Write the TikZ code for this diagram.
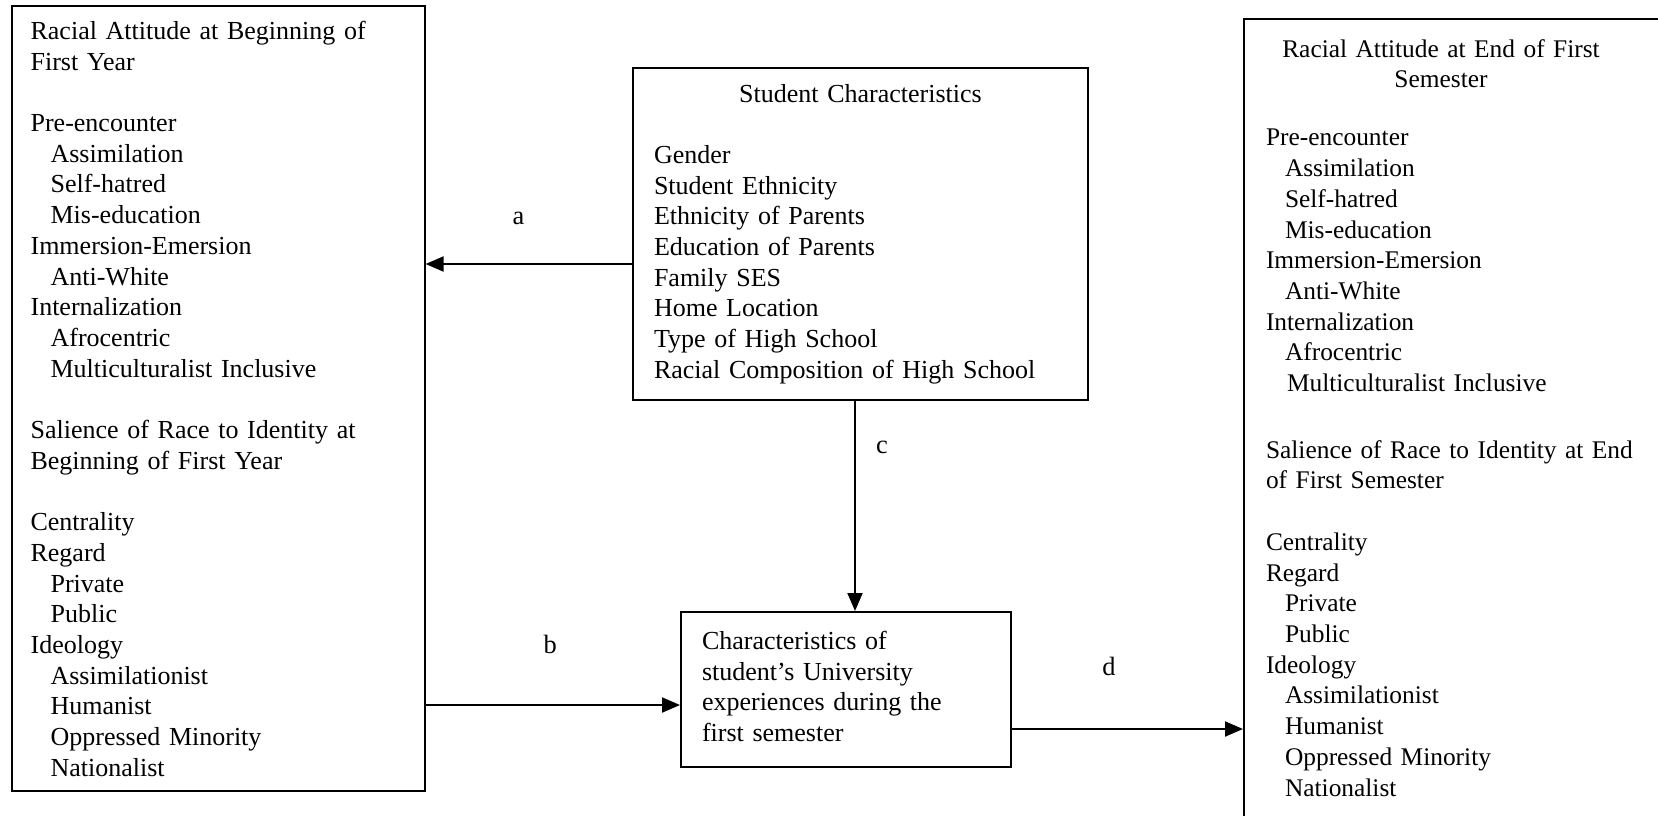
\documentclass[tikz,border=0pt]{standalone}
\usepackage{fontspec}
\setmainfont{Liberation Serif}
\usetikzlibrary{arrows.meta,positioning}

\begin{document}
\begin{tikzpicture}[x=0.5pt,y=-0.5pt,->,>={Triangle[length=9pt,width=7.5pt]},
                    line width=1pt,
                    box/.style={draw,anchor=north west,align=left,inner ysep=0pt,
                                font=\fontsize{13pt}{15.35pt}\selectfont},
                    lbl/.style={inner sep=0pt,font=\fontsize{13.2pt}{15.35pt}\selectfont}]
            \useasboundingbox (0,0) rectangle (1658,815);

            \node[box,text width=187.5pt,inner xsep=9.5pt,minimum height=392.5pt] (attbeg) at (10.6,5.3)
                {Racial Attitude at Beginning of\\ First Year\\[\baselineskip]
                 Pre-encounter\\ \hspace*{10pt}Assimilation\\ \hspace*{10pt}Self-hatred\\ \hspace*{10pt}Mis-education\\
                 Immersion-Emersion\\ \hspace*{10pt}Anti-White\\
                 Internalization\\ \hspace*{10pt}Afrocentric\\ \hspace*{10pt}Multiculturalist Inclusive\\[\baselineskip]
                 Salience of Race to Identity at\\ Beginning of First Year\\[\baselineskip]
                 Centrality\\ Regard\\ \hspace*{10pt}Private\\ \hspace*{10pt}Public\\
                 Ideology\\ \hspace*{10pt}Assimilationist\\ \hspace*{10pt}Humanist\\ \hspace*{10pt}Oppressed Minority\\ \hspace*{10pt}Nationalist};
            \node[box,text width=206.5pt,inner xsep=10.5pt,minimum height=166pt] (stud) at (632,67)
                {\makebox[206.5pt]{Student Characteristics}\\[\baselineskip]
                 Gender\\ Student Ethnicity\\ Ethnicity of Parents\\ Education of Parents\\ Family SES\\
                 Home Location\\ Type of High School\\ Racial Composition of High School};
            \node[box,text width=144pt,inner xsep=10.5pt,minimum height=77.5pt] (univ) at (680,611)
                {Characteristics of\\ student’s University\\ experiences during the\\ first semester\rule[-3.2pt]{0pt}{0pt}};
            \node[box,text width=213pt,inner xsep=11pt,minimum height=400pt,
                  font=\fontsize{12.7pt}{15.35pt}\selectfont] (attend) at (1243,18)
                {\makebox[175pt]{Racial Attitude at End of First}\\ \makebox[175pt]{Semester}\\[13.75pt]
                 Pre-encounter\\ \hspace*{9.5pt}Assimilation\\ \hspace*{9.5pt}Self-hatred\\ \hspace*{9.5pt}Mis-education\\
                 Immersion-Emersion\\ \hspace*{9.5pt}Anti-White\\
                 Internalization\\ \hspace*{9.5pt}Afrocentric\\ \hspace*{10.5pt}Multiculturalist Inclusive\\[18pt]
                 Salience of Race to Identity at End\\ of First Semester\\[\baselineskip]
                 Centrality\\ Regard\\ \hspace*{9.5pt}Private\\ \hspace*{9.5pt}Public\\
                 Ideology\\ \hspace*{9.5pt}Assimilationist\\ \hspace*{9.5pt}Humanist\\ \hspace*{9.5pt}Oppressed Minority\\ \hspace*{9.5pt}Nationalist\rule[-1.4pt]{0pt}{0pt}};

            \path ([yshift=-15pt]stud.west) edge node[lbl,pos=0.55,above=19pt] {a} ([yshift=-15pt]stud.west -| attbeg.east)
                  ([yshift=-7.75pt]univ.west -| attbeg.east) edge node[lbl,pos=0.49,above=25pt] {b} ([yshift=-7.75pt]univ.west)
                  ([xshift=-2.75pt]stud.south) edge node[lbl,pos=0.22,right=10pt] {c} ([xshift=-2.75pt]stud.south |- univ.north)
                  ([yshift=-19.75pt]univ.east) edge node[lbl,pos=0.42,above=26pt] {d} ([yshift=-19.75pt]univ.east -| attend.west);
        \end{tikzpicture}
\end{document}
